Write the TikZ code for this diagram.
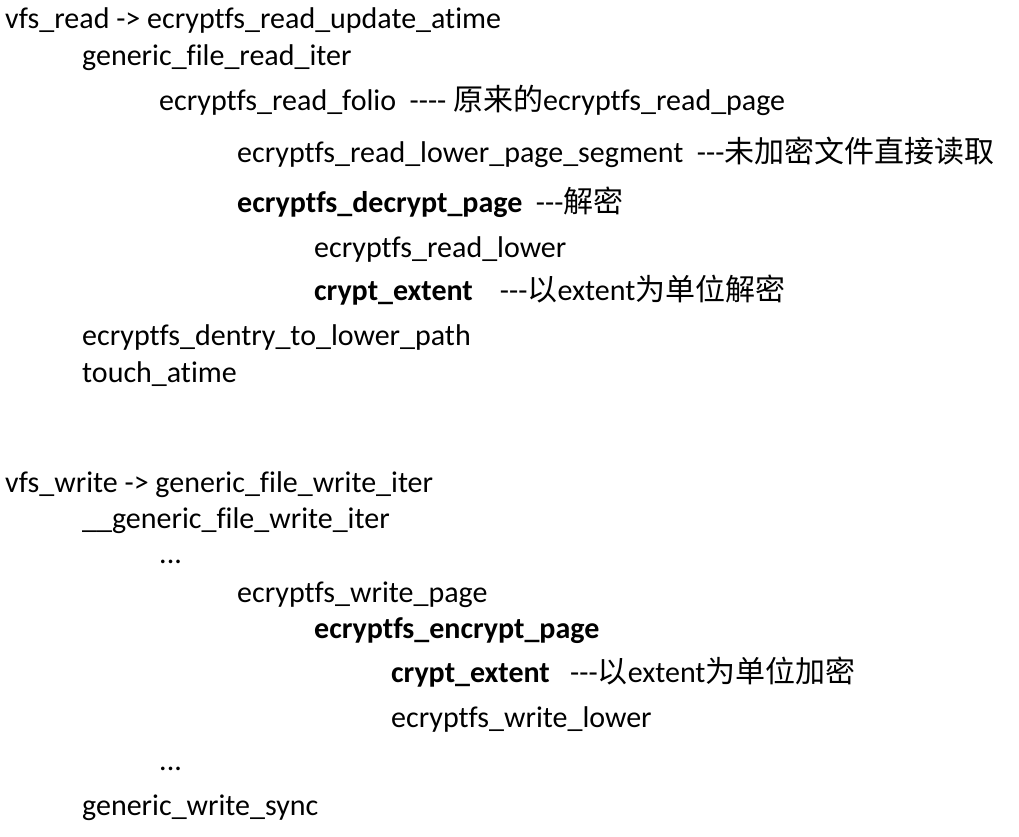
\documentclass[tikz,border=0pt]{standalone}
\usepackage{fontspec}
\setmainfont{Carlito}[Ligatures={TeXOff,CommonOff}]
\newfontfamily\cjk{Noto Sans CJK SC}
\begin{document}
\begin{tikzpicture}[x=1pt,y=-1pt,
  line/.style={anchor=base west,inner sep=0pt,font=\fontsize{30}{36}\selectfont}]
\useasboundingbox[fill=white] (0,0) rectangle (1019,836);
\node[line] (l1) at (5,28) {vfs\_read -> ecryptfs\_read\_update\_atime};
\node[line] (l2) at (82,65) {generic\_file\_read\_iter};
\node[line] (l3) at (159,110) {ecryptfs\_read\_folio~~---- {\cjk 原来的}ecryptfs\_read\_page};
\node[line] (l4) at (237,162) {ecryptfs\_read\_lower\_page\_segment~~---{\cjk 未加密文件直接读取}};
\node[line] (l5) at (237,212) {\textbf{ecryptfs\_decrypt\_page}~~---{\cjk 解密}};
\node[line] (l6) at (314,257) {ecryptfs\_read\_lower};
\node[line] (l7) at (314,300) {\textbf{crypt\_extent}~~~~---{\cjk 以}extent{\cjk 为单位解密}};
\node[line] (l8) at (82,345) {ecryptfs\_dentry\_to\_lower\_path};
\node[line] (l9) at (82,382) {touch\_atime};
\node[line] (l10) at (5,492) {vfs\_write -> generic\_file\_write\_iter};
\node[line] (l11) at (82,528) {\_\_generic\_file\_write\_iter};
\node[line] (l12) at (159,563) {...};
\node[line] (l13) at (237,602) {ecryptfs\_write\_page};
\node[line] (l14) at (314,638) {\textbf{ecryptfs\_encrypt\_page}};
\node[line] (l15) at (391,682) {\textbf{crypt\_extent}~~~---{\cjk 以}extent{\cjk 为单位加密}};
\node[line] (l16) at (391,727) {ecryptfs\_write\_lower};
\node[line] (l17) at (159,770) {...};
\node[line] (l18) at (82,815) {generic\_write\_sync};
\end{tikzpicture}
\end{document}
